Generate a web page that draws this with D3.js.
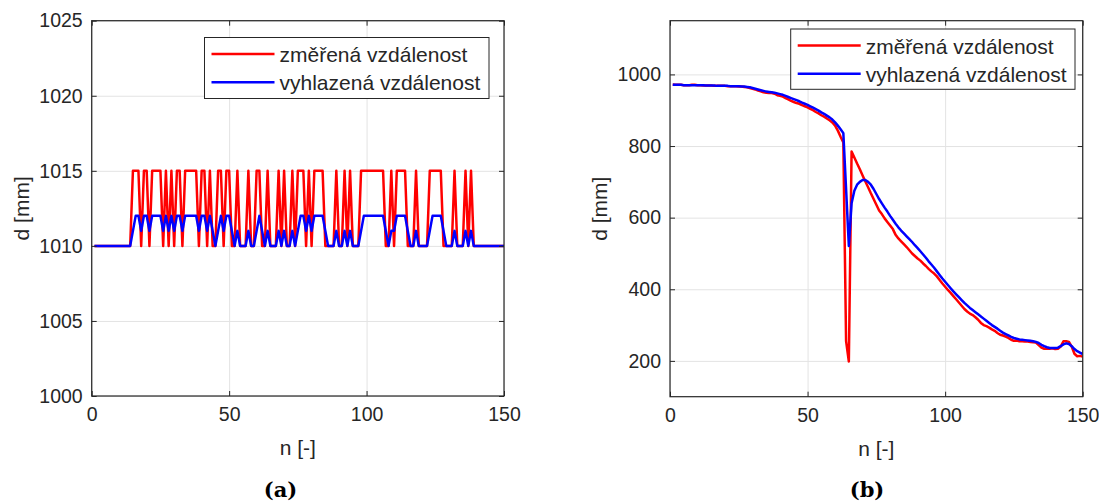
<!DOCTYPE html>
<html>
<head>
<meta charset="utf-8">
<script src="https://cdn.jsdelivr.net/npm/d3@7"></script>
<style>
  html, body { margin: 0; padding: 0; background: #fff; }
  svg { display: block; }
  text { font-family: "Liberation Sans", Arial, Helvetica, sans-serif; fill: #262626; }
  text.caption { font-family: "DejaVu Serif", serif; font-weight: 700; fill: #000; }
</style>
</head>
<body>
<svg id="chart" width="1099" height="504"></svg>
<script>
// sample index n = 1 .. 150
const samples = d3.range(1, 151);

// (a) static target: measured and smoothed distance [mm]
const measuredA = [
  1010,1010,1010,1010,1010,1010,1010,1010,1010,1010,
  1010,1010,1010,1010,1015,1015,1015,1010,1015,1015,
  1010,1015,1015,1015,1015,1010,1015,1010,1015,1010,
  1015,1015,1010,1015,1015,1015,1015,1015,1010,1015,
  1015,1010,1015,1010,1010,1015,1015,1010,1015,1015,
  1010,1010,1015,1010,1010,1010,1015,1010,1010,1015,
  1015,1010,1010,1015,1010,1010,1010,1015,1010,1015,
  1010,1010,1015,1010,1015,1015,1015,1010,1015,1010,
  1015,1015,1015,1015,1010,1010,1010,1010,1015,1010,
  1010,1015,1010,1015,1010,1010,1010,1015,1015,1015,
  1015,1015,1015,1015,1015,1015,1010,1010,1015,1010,
  1015,1015,1015,1015,1010,1010,1010,1015,1010,1010,
  1010,1010,1015,1015,1015,1015,1015,1010,1010,1010,
  1010,1015,1010,1010,1010,1015,1010,1015,1010,1010,
  1010,1010,1010,1010,1010,1010,1010,1010,1010,1010
];
const smoothedA = [
  1010,1010,1010,1010,1010,1010,1010,1010,1010,1010,
  1010,1010,1010,1010,1011,1012,1012,1011,1012,1012,
  1011,1012,1012,1012,1012,1011,1012,1011,1012,1011,
  1012,1012,1011,1012,1012,1012,1012,1012,1011,1012,
  1012,1011,1012,1011,1010,1011,1012,1011,1012,1012,
  1011,1010,1011,1010,1010,1010,1011,1010,1010,1011,
  1012,1011,1010,1011,1010,1010,1010,1011,1010,1011,
  1010,1010,1011,1010,1011,1012,1012,1011,1012,1011,
  1012,1012,1012,1012,1011,1010,1010,1010,1011,1010,
  1010,1011,1010,1011,1010,1010,1010,1011,1012,1012,
  1012,1012,1012,1012,1012,1012,1011,1010,1011,1011,
  1012,1012,1012,1012,1011,1010,1010,1011,1010,1010,
  1010,1010,1011,1012,1012,1012,1012,1011,1010,1010,
  1010,1011,1010,1010,1010,1011,1010,1011,1010,1010,
  1010,1010,1010,1010,1010,1010,1010,1010,1010,1010
];

// (b) approaching target: measured and smoothed distance [mm]
const measuredB = [
  972,971,971,971,970,970,970,971,971,970,
  970,969,969,969,969,968,968,968,968,968,
  967,967,967,967,966,966,965,964,962,960,
  958,955,953,950,949,948,948,946,942,940,
  938,934,930,926,923,920,918,914,911,908,
  904,900,895,891,886,882,877,872,866,857,
  843,826,810,255,198,785,768,751,735,718,
  701,685,668,652,636,620,610,598,588,578,
  568,552,542,534,526,518,509,500,493,486,
  480,472,465,457,450,444,436,426,416,407,
  398,390,381,372,363,354,345,338,332,328,
  322,315,306,300,297,293,288,284,278,273,
  271,268,264,259,256,257,255,255,254,254,
  253,252,251,244,237,234,234,234,235,233,
  234,240,255,255,253,240,220,213,214,212
];
const smoothedB = [
  971,971,971,971,970,970,970,970,970,970,
  970,970,969,969,969,969,968,968,968,968,
  968,967,967,967,967,966,966,965,964,962,
  960,958,956,954,952,951,950,949,947,945,
  943,940,937,934,931,928,925,921,918,915,
  911,907,903,899,894,890,885,880,874,866,
  857,847,836,680,521,640,675,692,700,705,
  705,700,692,680,666,652,640,628,617,605,
  594,583,573,564,556,548,540,532,523,515,
  506,497,488,478,469,460,450,440,430,421,
  412,403,394,386,378,370,362,355,348,342,
  336,330,324,318,312,306,300,295,290,284,
  279,275,271,267,264,262,260,259,258,257,
  256,255,253,250,245,241,238,236,236,236,
  237,241,246,249,247,241,233,227,223,219
];

// axis ticks
const xTicks = [0, 50, 100, 150];
const yTicksA = [1000, 1005, 1010, 1015, 1020, 1025];
const yTicksB = [200, 400, 600, 800, 1000];

const seriesNames = ["změřená vzdálenost", "vyhlazená vzdálenost"];
const seriesColors = ["#ff0000", "#0000ff"];

const svg = d3.select("#chart");
const AXIS = "#262626";
const GRID = "#e3e3e3";

function panel(opt) {
  const x = d3.scaleLinear().domain([0, 150]).range([opt.left, opt.right]);
  const y = d3.scaleLinear().domain(opt.yDomain).range([opt.bottom, opt.top]);
  const g = svg.append("g");
  const w = opt.right - opt.left, h = opt.bottom - opt.top;

  // grid
  g.append("g").attr("transform", `translate(0,${opt.bottom})`)
    .call(d3.axisBottom(x).tickValues(xTicks).tickSize(-h).tickFormat(""))
    .call(s => s.select(".domain").remove())
    .selectAll("line").attr("stroke", GRID).attr("stroke-width", 1);
  g.append("g").attr("transform", `translate(${opt.left},0)`)
    .call(d3.axisLeft(y).tickValues(opt.yTicks).tickSize(-w).tickFormat(""))
    .call(s => s.select(".domain").remove())
    .selectAll("line").attr("stroke", GRID).attr("stroke-width", 1);

  // data lines
  const clipId = "clip" + opt.id;
  svg.append("clipPath").attr("id", clipId).append("rect")
    .attr("x", opt.left).attr("y", opt.top).attr("width", w).attr("height", h);
  const line = d3.line().x((d, i) => x(samples[i])).y(d => y(d));
  [opt.measured, opt.smoothed].forEach((vals, k) => {
    g.append("path").datum(vals)
      .attr("clip-path", `url(#${clipId})`)
      .attr("d", line)
      .attr("fill", "none")
      .attr("stroke", seriesColors[k])
      .attr("stroke-width", 2.5)
      .attr("stroke-linejoin", "round");
  });

  // inward tick marks on all four sides
  const tick = 5;
  const marks = [
    [d3.axisBottom(x).tickValues(xTicks), `translate(0,${opt.bottom})`],
    [d3.axisTop(x).tickValues(xTicks), `translate(0,${opt.top})`],
    [d3.axisLeft(y).tickValues(opt.yTicks), `translate(${opt.left},0)`],
    [d3.axisRight(y).tickValues(opt.yTicks), `translate(${opt.right},0)`]
  ];
  marks.forEach(([ax, tr]) => {
    g.append("g").attr("transform", tr)
      .call(ax.tickSize(-tick).tickFormat(""))
      .call(s => s.select(".domain").remove())
      .selectAll("line").attr("stroke", AXIS).attr("stroke-width", 1);
  });

  // frame
  g.append("rect").attr("x", opt.left).attr("y", opt.top)
    .attr("width", w).attr("height", h)
    .attr("fill", "none").attr("stroke", AXIS).attr("stroke-width", 1.2);

  // tick labels
  g.append("g").attr("transform", `translate(0,${opt.bottom})`)
    .call(d3.axisBottom(x).tickValues(xTicks).tickSize(0).tickPadding(11).tickFormat(d3.format("d")))
    .call(s => s.select(".domain").remove())
    .selectAll("text").attr("font-size", 19.5).attr("fill", AXIS)
    .style("font-family", "'Liberation Sans', Arial, sans-serif");
  g.append("g").attr("transform", `translate(${opt.left},0)`)
    .call(d3.axisLeft(y).tickValues(opt.yTicks).tickSize(0).tickPadding(9).tickFormat(d3.format("d")))
    .call(s => s.select(".domain").remove())
    .selectAll("text").attr("font-size", 19.5).attr("fill", AXIS)
    .style("font-family", "'Liberation Sans', Arial, sans-serif");

  // axis titles
  g.append("text").attr("x", (opt.left + opt.right) / 2).attr("y", opt.bottom + 59)
    .attr("text-anchor", "middle").attr("font-size", 21).text("n [-]");
  g.append("text")
    .attr("transform", `translate(${opt.left - 63},${(opt.top + opt.bottom) / 2}) rotate(-90)`)
    .attr("text-anchor", "middle").attr("font-size", 21).text("d [mm]");

  // legend
  const L = opt.legend;
  g.append("rect").attr("x", L.x).attr("y", L.y).attr("width", L.w).attr("height", L.h)
    .attr("fill", "#fff").attr("stroke", AXIS).attr("stroke-width", 1);
  seriesNames.forEach((name, k) => {
    const cy = L.y + 16.5 + k * 28.3;
    g.append("line").attr("x1", L.x + 7).attr("x2", L.x + 70)
      .attr("y1", cy).attr("y2", cy)
      .attr("stroke", seriesColors[k]).attr("stroke-width", 2.5);
    g.append("text").attr("x", L.x + 75).attr("y", cy + 8)
      .attr("font-size", 21).text(name);
  });

  // caption
  svg.append("text").attr("class", "caption")
    .attr("x", opt.captionX).attr("y", 497)
    .attr("text-anchor", "middle")
    .attr("font-size", 21)
    .text(opt.caption);
}

panel({
  id: "a", left: 91.7, right: 504, top: 20.7, bottom: 396,
  yDomain: [1000, 1025], yTicks: yTicksA,
  measured: measuredA, smoothed: smoothedA,
  legend: { x: 204.5, y: 37.5, w: 284.5, h: 61 },
  caption: "(a)", captionX: 280.5
});
panel({
  id: "b", left: 670, right: 1082.7, top: 20.7, bottom: 396.7,
  yDomain: [100, 1150], yTicks: yTicksB,
  measured: measuredB, smoothed: smoothedB,
  legend: { x: 790.7, y: 29, w: 284.3, h: 60.3 },
  caption: "(b)", captionX: 867
});
</script>
</body>
</html>
